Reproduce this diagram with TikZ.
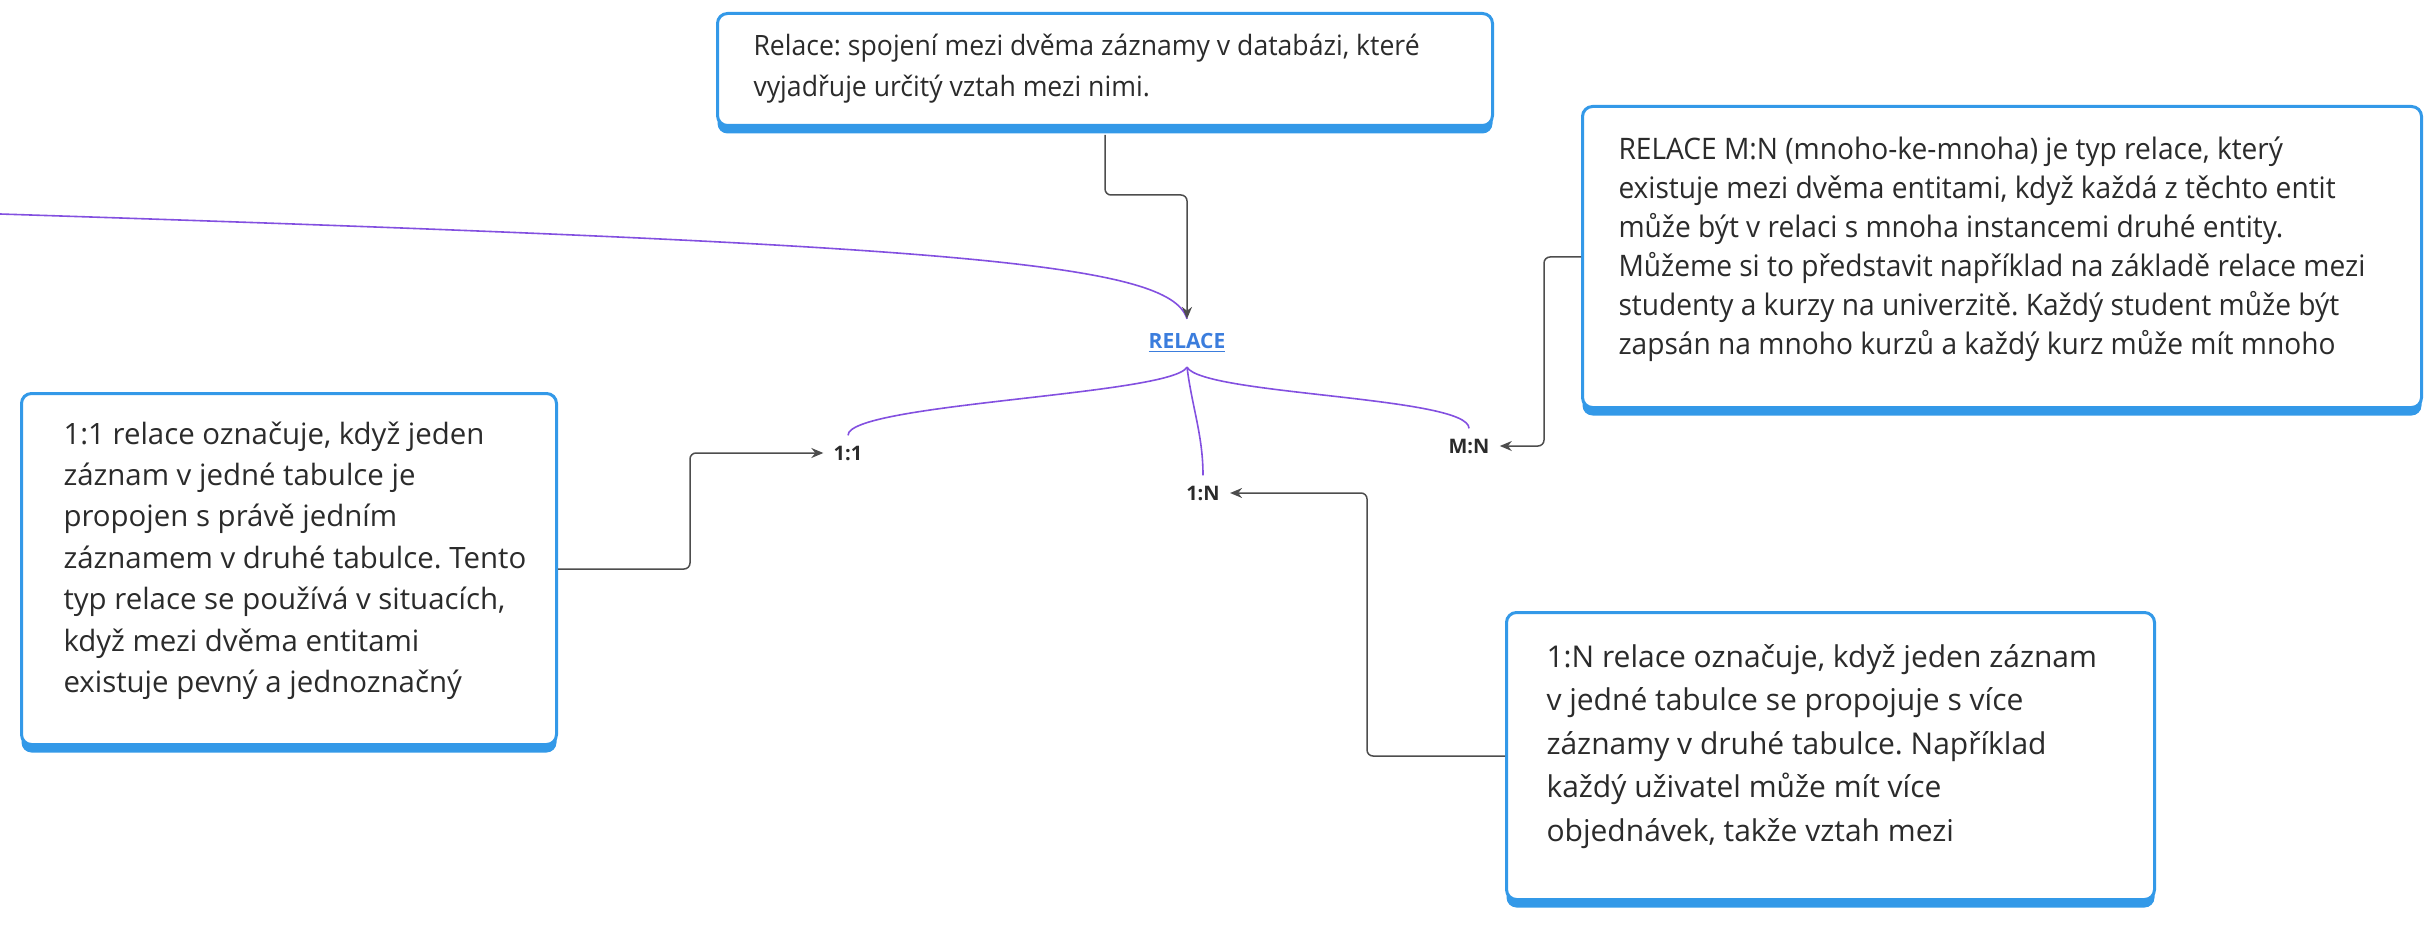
\documentclass[tikz,border=0pt]{standalone}
\usepackage{fontspec}
\setmainfont{Open Sans}
\newfontfamily\narrowfont[FakeStretch=0.95]{Open Sans}
\usetikzlibrary{shadows,arrows.meta}
\definecolor{boxblue}{HTML}{3399E8}
\definecolor{linkblue}{HTML}{3B7DDD}
\definecolor{twigpurple}{HTML}{8350E0}
\definecolor{conn}{HTML}{4D4D4D}
\definecolor{textgray}{HTML}{2B2B2B}
\frenchspacing

\begin{document}
\begin{tikzpicture}[x=0.5pt,y=-0.5pt]
    \tikzstyle{note}=[draw=boxblue, line width=1.5pt, rounded corners=5pt, fill=white, anchor=north west, inner xsep=18pt, inner ysep=11pt, text=textgray, drop shadow={shadow xshift=0pt, shadow yshift=-4pt, fill=boxblue, opacity=1}]
    \tikzstyle{relation}=[font=\bfseries\fontsize{10}{12}\selectfont, text=textgray, inner sep=5pt]
    \tikzstyle{link}=[draw=conn, line width=0.75pt, rounded corners=3pt, -{Stealth[length=6pt,width=5pt]}]
    \tikzstyle{twig}=[draw=twigpurple, line width=0.8pt]

    \useasboundingbox (0,0) rectangle (2430,925);

    % Draw the central topic and the three kinds of relation
    \node[relation, font=\bfseries\fontsize{10.5}{12}\selectfont, text=linkblue, inner sep=7pt] (relace) at (1187,343) {\underline{RELACE}};
    \node[relation] (oneone) at (848,453) {1:1};
    \node[relation] (onen) at (1203,493) {1:N};
    \node[relation] (mn) at (1469,446) {M:N};

    % Draw the note boxes
    \node[note, inner ysep=10.5pt] (defbox) at (716,12) {\parbox[t][35pt][t]{351.5pt}{\narrowfont\fontsize{14}{20.5}\selectfont\raggedright
        Relace: spojení mezi dvěma záznamy v databázi, které\\
        vyjadřuje určitý vztah mezi nimi.}};
    \node[note, inner ysep=15pt] (manybox) at (1581,105) {\parbox[t][120.5pt][t]{383.5pt}{\narrowfont\fontsize{14.8}{19.5}\selectfont\raggedright
        RELACE M:N (mnoho-ke-mnoha) je typ relace, který\\
        existuje mezi dvěma entitami, když každá z těchto entit\\
        může být v relaci s mnoha instancemi druhé entity.\\
        Můžeme si to představit například na základě relace mezi\\
        studenty a kurzy na univerzitě. Každý student může být\\
        zapsán na mnoho kurzů a každý kurz může mít mnoho}};
    \node[note, inner xsep=21pt, inner ysep=14pt] (onebox) at (20,392) {\parbox[t][147.5pt][t]{225.5pt}{\fontsize{14.7}{20.7}\selectfont\raggedright
        1:1 relace označuje, když jeden\\
        záznam v jedné tabulce je\\
        propojen s právě jedním\\
        \mbox{záznamem v druhé tabulce. Tento}\\
        \mbox{typ relace se používá v situacích,}\\
        když mezi dvěma entitami\\
        existuje pevný a jednoznačný}};
    \node[note, inner xsep=20pt, inner ysep=16pt] (onenbox) at (1505,611) {\parbox[t][111.5pt][t]{284pt}{\fontsize{15}{21.7}\selectfont\raggedright
        1:N relace označuje, když jeden záznam\\
        v jedné tabulce se propojuje s více\\
        záznamy v druhé tabulce. Například\\
        každý uživatel může mít více\\
        objednávek, takže vztah mezi}};

    % Connect the central topic with its branches
    \coordinate (offleft) at (0,214);
    \draw[twig] (offleft) .. controls (950,245) and (1170,262) .. (relace.north);
    \draw[twig] (relace.south) .. controls +(-15,28) and +(0,-32) .. (oneone.north);
    \draw[twig] (relace.south) .. controls +(5,40) and +(0,-40) .. (onen.north);
    \draw[twig] (relace.south) .. controls +(15,28) and +(0,-32) .. (mn.north);

    % Connect every note with its topic
    \draw[link] ([yshift=-4pt]defbox.south) -- ++(0,60) -| (relace.north);
    \draw[link] (onebox.east) -- ++(132,0) |- (oneone.west);
    \draw[link] (onenbox.west) -- ++(-138,0) |- (onen.east);
    \draw[link] (manybox.west) -- ++(-37,0) |- (mn.east);
\end{tikzpicture}
\end{document}
